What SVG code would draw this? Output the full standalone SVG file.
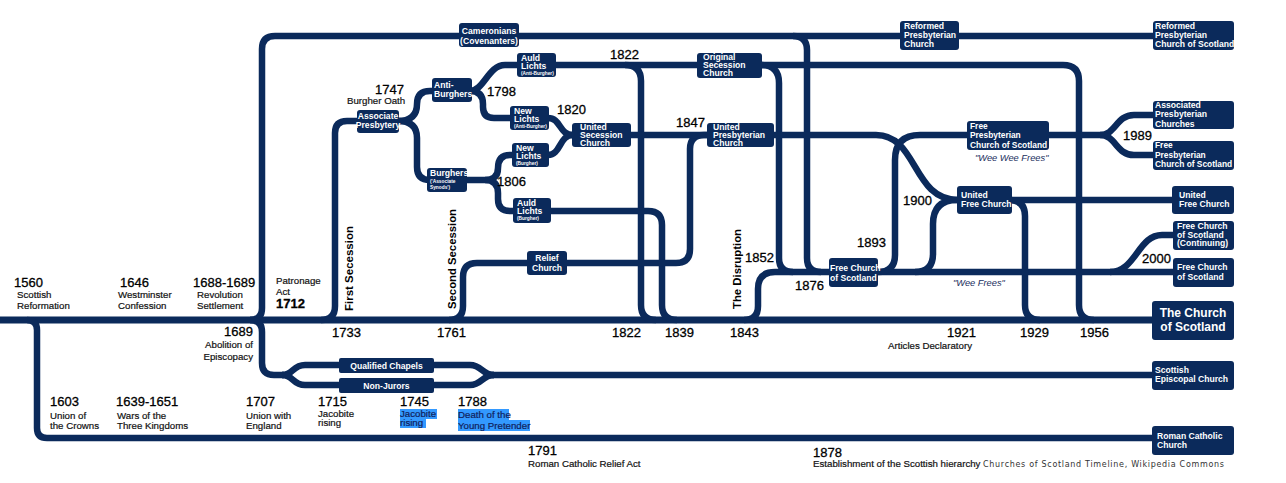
<svg xmlns="http://www.w3.org/2000/svg" width="1286" height="483" viewBox="0 0 1286 483">
<style>
.c path{fill:none;stroke:#0b2a5b;stroke-width:6.5}
.b{fill:#0b2a5b}
.t{font-family:"Liberation Sans",Arial,sans-serif;font-weight:bold;font-size:8.6px;fill:#fff}
.s{font-size:4.8px}
.y{font-family:"Liberation Sans",Arial,sans-serif;font-size:13px;fill:#000;stroke:#000;stroke-width:0.3}
.l{font-family:"Liberation Sans",Arial,sans-serif;font-size:9.7px;fill:#111;stroke:#111;stroke-width:0.2}
.v{font-family:"Liberation Sans",Arial,sans-serif;font-weight:bold;font-size:11.5px;fill:#000}
.i{font-family:"Liberation Sans",Arial,sans-serif;font-style:italic;font-size:9.3px;fill:#1b2f5e}
.h{fill:#3399ff}
</style>
<rect width="1286" height="483" fill="#fff"/>
<g id="connectors" class="c">
<path d="M0,320 H1155" style="stroke-width:7"/>
<path d="M27,320 Q37,320 37,330 V428 Q37,438 47,438 H1155"/>
<path d="M250,320 Q262,320 262,308 V49 Q262,36 275,36 H1155"/>
<path d="M793,36 Q807,36 807,50 V258 Q807,272 821,272"/>
<path d="M250,320 Q262,320 262,332 V363 Q262,375 274,375 H284"/>
<path d="M282,375 C294,375 292,365 305,365 H470 C482,365 482,375 494,375"/>
<path d="M282,375 C294,375 292,385 305,385 H470 C482,385 482,375 494,375"/>
<path d="M490,375 H1155"/>
<path d="M321,320 Q335,320 335,306 V133 Q335,121 347,121 H358"/>
<path d="M398,121 Q417,121 417,104 Q417,91 430,91 H433"/>
<path d="M398,121 Q417,121 417,138 V167 Q417,180 430,180"/>
<path d="M470,91 C484,91 488,65 505,65 H518"/>
<path d="M470,91 Q483,91 483,104 V107 Q483,118 494,118 H511"/>
<path d="M466,180 H485 Q498,180 498,168 Q498,155 510,155 H513"/>
<path d="M485,180 Q498,180 498,193 V199 Q498,211 510,211 H514"/>
<path d="M548,118 C561,118 559,135 573,135"/>
<path d="M548,155 C561,155 559,135 573,135"/>
<path d="M555,65 H698"/>
<path d="M625,65 Q641,65 641,81 V305 Q641,320 656,320"/>
<path d="M761,65 H1063 Q1079,65 1079,81 V305 Q1079,320 1094,320"/>
<path d="M761,65 Q779,65 779,83 V258 Q779,272 793,272"/>
<path d="M550,211 H648 Q662,211 662,225 V305 Q662,320 677,320"/>
<path d="M449,320 Q463,320 463,306 V277 Q463,263 477,263 H676 Q690,263 690,249 V149 Q690,135 704,135 H708"/>
<path d="M630,135 H708"/>
<path d="M773,135 H876 C918,135 912,200 958,200"/>
<path d="M744,320 Q758,320 758,306 V289 Q758,272 775,272 H1174"/>
<path d="M878,272 Q895,272 895,255 V160 Q895,135 920,135 H968"/>
<path d="M915,272 Q933,272 933,254 V224 Q933,200 957,200"/>
<path d="M1011,200 H1173"/>
<path d="M1009,200 Q1025,200 1025,216 V305 Q1025,320 1040,320"/>
<path d="M1048,135 H1100 C1116,135 1116,115 1134,115 H1154"/>
<path d="M1100,135 C1116,135 1116,155 1134,155 H1154"/>
<path d="M1110,272 C1136,272 1138,235 1162,235 H1174"/>
</g>

<g id="n-cameronians"><rect class="b" x="459" y="23" width="60" height="24" rx="3"/><text class="t" text-anchor="middle"><tspan x="489" y="33.5">Cameronians</tspan><tspan x="489" y="43.5">(Covenanters)</tspan></text></g>
<g id="n-rpc"><rect class="b" x="900" y="21" width="59" height="29" rx="3"/><text class="t"><tspan x="904" y="29">Reformed</tspan><tspan x="904" y="38">Presbyterian</tspan><tspan x="904" y="47">Church</tspan></text></g>
<g id="n-rpcs"><rect class="b" x="1153" y="21" width="81" height="29" rx="3"/><text class="t"><tspan x="1155" y="28.5">Reformed</tspan><tspan x="1155" y="37.5">Presbyterian</tspan><tspan x="1155" y="46.5">Church of Scotland</tspan></text></g>
<g id="n-assoc"><rect class="b" x="357" y="110" width="42" height="23" rx="3"/><text class="t" text-anchor="middle"><tspan x="378" y="119">Associate</tspan><tspan x="378" y="128">Presbytery</tspan></text></g>
<g id="n-antiburghers"><rect class="b" x="432" y="78" width="40" height="24" rx="3"/><text class="t"><tspan x="434" y="88">Anti-</tspan><tspan x="434" y="97">Burghers</tspan></text></g>
<g id="n-burghers"><rect class="b" x="427" y="168" width="40" height="24" rx="3"/><text class="t"><tspan x="430" y="176">Burghers</tspan><tspan class="s" x="430" y="182.5">('Associate</tspan><tspan class="s" x="430" y="188.5">Synods')</tspan></text></g>
<g id="n-auld-ab"><rect class="b" x="517" y="53" width="39" height="24" rx="3"/><text class="t"><tspan x="521" y="60.5">Auld</tspan><tspan x="521" y="68.5">Lichts</tspan><tspan class="s" x="521" y="74.5">(Anti-Burgher)</tspan></text></g>
<g id="n-new-ab"><rect class="b" x="510" y="106" width="39" height="24" rx="3"/><text class="t"><tspan x="514" y="113.5">New</tspan><tspan x="514" y="121.5">Lichts</tspan><tspan class="s" x="514" y="127.5">(Anti-Burgher)</tspan></text></g>
<g id="n-new-b"><rect class="b" x="512" y="143" width="37" height="24" rx="3"/><text class="t"><tspan x="516" y="150.5">New</tspan><tspan x="516" y="158.5">Lichts</tspan><tspan class="s" x="516" y="164.5">(Burgher)</tspan></text></g>
<g id="n-auld-b"><rect class="b" x="513" y="198" width="38" height="25" rx="3"/><text class="t"><tspan x="517" y="205.5">Auld</tspan><tspan x="517" y="213.5">Lichts</tspan><tspan class="s" x="517" y="220">(Burgher)</tspan></text></g>
<g id="n-usc"><rect class="b" x="572" y="123" width="59" height="24" rx="3"/><text class="t"><tspan x="580" y="130">United</tspan><tspan x="580" y="138">Secession</tspan><tspan x="580" y="146">Church</tspan></text></g>
<g id="n-relief"><rect class="b" x="527" y="251" width="40" height="24" rx="3"/><text class="t" text-anchor="middle"><tspan x="547" y="261">Relief</tspan><tspan x="547" y="271">Church</tspan></text></g>
<g id="n-osc"><rect class="b" x="697" y="53" width="65" height="25" rx="3"/><text class="t"><tspan x="703" y="60">Original</tspan><tspan x="703" y="68">Secession</tspan><tspan x="703" y="76">Church</tspan></text></g>
<g id="n-upc"><rect class="b" x="707" y="123" width="67" height="24" rx="3"/><text class="t"><tspan x="713" y="130">United</tspan><tspan x="713" y="138">Presbyterian</tspan><tspan x="713" y="146">Church</tspan></text></g>
<g id="n-fc"><rect class="b" x="829" y="258" width="49" height="29" rx="3"/><text class="t"><tspan x="830" y="270.5">Free Church</tspan><tspan x="830" y="280.5">of Scotland</tspan></text></g>
<g id="n-fp"><rect class="b" x="967" y="121" width="82" height="29" rx="3"/><text class="t" style="font-size:8.4px"><tspan x="970" y="128.5">Free</tspan><tspan x="970" y="138">Presbyterian</tspan><tspan x="970" y="147.5">Church of Scotland</tspan></text></g>
<g id="n-ufc"><rect class="b" x="957" y="186" width="55" height="28" rx="3"/><text class="t"><tspan x="961" y="197.5">United</tspan><tspan x="961" y="206.5">Free Church</tspan></text></g>
<g id="n-apc"><rect class="b" x="1153" y="101" width="81" height="28" rx="3"/><text class="t"><tspan x="1155" y="108">Associated</tspan><tspan x="1155" y="117">Presbyterian</tspan><tspan x="1155" y="126.5">Churches</tspan></text></g>
<g id="n-fpcs"><rect class="b" x="1153" y="141" width="81" height="29" rx="3"/><text class="t" style="font-size:8.4px"><tspan x="1155" y="148">Free</tspan><tspan x="1155" y="157.5">Presbyterian</tspan><tspan x="1155" y="167">Church of Scotland</tspan></text></g>
<g id="n-ufc2"><rect class="b" x="1172" y="186" width="62" height="28" rx="3"/><text class="t"><tspan x="1179" y="197.5">United</tspan><tspan x="1179" y="206.5">Free Church</tspan></text></g>
<g id="n-fcc"><rect class="b" x="1173" y="221" width="61" height="29" rx="3"/><text class="t"><tspan x="1177" y="229">Free Church</tspan><tspan x="1177" y="237.5">of Scotland</tspan><tspan x="1177" y="246">(Continuing)</tspan></text></g>
<g id="n-fcs2"><rect class="b" x="1173" y="258" width="61" height="29" rx="3"/><text class="t"><tspan x="1177" y="270">Free Church</tspan><tspan x="1177" y="280">of Scotland</tspan></text></g>
<g id="n-cos"><rect class="b" x="1152" y="301" width="82" height="39" rx="3"/><text class="t" style="font-size:12px" text-anchor="middle"><tspan x="1193" y="317">The Church</tspan><tspan x="1193" y="331">of Scotland</tspan></text></g>
<g id="n-qc"><rect class="b" x="339" y="358" width="95" height="15" rx="2"/><text class="t" text-anchor="middle" x="386.5" y="368.5">Qualified Chapels</text></g>
<g id="n-nj"><rect class="b" x="339" y="378" width="95" height="15" rx="2"/><text class="t" text-anchor="middle" x="386.5" y="389">Non-Jurors</text></g>
<g id="n-sec"><rect class="b" x="1152" y="361" width="82" height="29" rx="3"/><text class="t"><tspan x="1155" y="373">Scottish</tspan><tspan x="1155" y="382">Episcopal Church</tspan></text></g>
<g id="n-rcc"><rect class="b" x="1152" y="426" width="82" height="29" rx="3"/><text class="t"><tspan x="1157" y="439">Roman Catholic</tspan><tspan x="1157" y="448">Church</tspan></text></g>

<g id="labels">
<text class="y" x="14" y="287">1560</text>
<text class="l"><tspan x="17" y="298">Scottish</tspan><tspan x="17" y="309">Reformation</tspan></text>
<text class="y" x="120" y="287">1646</text>
<text class="l"><tspan x="118" y="298">Westminster</tspan><tspan x="118" y="309">Confession</tspan></text>
<text class="y" x="193" y="287">1688-1689</text>
<text class="l"><tspan x="197" y="298">Revolution</tspan><tspan x="197" y="309">Settlement</tspan></text>
<text class="l"><tspan x="276" y="284">Patronage</tspan><tspan x="276" y="295">Act</tspan></text>
<text class="y" x="276" y="308" font-weight="bold">1712</text>
<text class="y" x="253" y="336" text-anchor="end">1689</text>
<text class="l" text-anchor="end"><tspan x="253" y="348">Abolition of</tspan><tspan x="253" y="360">Episcopacy</tspan></text>

<text class="y" x="375" y="94">1747</text>
<text class="l" x="347" y="104">Burgher Oath</text>
<text class="y" x="487" y="96">1798</text>
<text class="y" x="610" y="59">1822</text>
<text class="y" x="557" y="114">1820</text>
<text class="y" x="497" y="186">1806</text>
<text class="y" x="676" y="127">1847</text>
<text class="y" x="745" y="262">1852</text>
<text class="y" x="795" y="290">1876</text>
<text class="y" x="857" y="247">1893</text>
<text class="y" x="903" y="205">1900</text>
<text class="y" x="1123" y="140">1989</text>
<text class="y" x="1142" y="263">2000</text>
<text class="i" x="975" y="161">"Wee Wee Frees"</text>
<text class="i" x="953" y="286">"Wee Frees"</text>

<text class="v" transform="translate(353,311) rotate(-90)" textLength="85" lengthAdjust="spacingAndGlyphs">First Secession</text>
<text class="v" transform="translate(456,309) rotate(-90)" textLength="100" lengthAdjust="spacingAndGlyphs">Second Secession</text>
<text class="v" transform="translate(741,309) rotate(-90)" textLength="80" lengthAdjust="spacingAndGlyphs">The Disruption</text>

<text class="y" x="332" y="337">1733</text>
<text class="y" x="437" y="337">1761</text>
<text class="y" x="612" y="337">1822</text>
<text class="y" x="665" y="337">1839</text>
<text class="y" x="730" y="337">1843</text>
<text class="y" x="947" y="337">1921</text>
<text class="l" x="888" y="349">Articles Declaratory</text>
<text class="y" x="1020" y="337">1929</text>
<text class="y" x="1080" y="337">1956</text>

<text class="y" x="50" y="406">1603</text>
<text class="l"><tspan x="50" y="419">Union of</tspan><tspan x="50" y="429">the Crowns</tspan></text>
<text class="y" x="116" y="406">1639-1651</text>
<text class="l"><tspan x="117" y="419">Wars of the</tspan><tspan x="117" y="429">Three Kingdoms</tspan></text>
<text class="y" x="246" y="406">1707</text>
<text class="l"><tspan x="246" y="419">Union with</tspan><tspan x="246" y="429">England</tspan></text>
<text class="y" x="318" y="406">1715</text>
<text class="l"><tspan x="318" y="417">Jacobite</tspan><tspan x="318" y="426">rising</tspan></text>
<text class="y" x="400" y="406">1745</text>
<rect class="h" x="400" y="409" width="37" height="10"/>
<rect class="h" x="400" y="419" width="26" height="9"/>
<text class="l" style="fill:#10205a;stroke:#10205a"><tspan x="400" y="417">Jacobite</tspan><tspan x="400" y="426">rising</tspan></text>
<text class="y" x="458" y="406">1788</text>
<rect class="h" x="458" y="409" width="51" height="11"/>
<rect class="h" x="458" y="420" width="72" height="11"/>
<text class="l" style="fill:#10205a;stroke:#10205a"><tspan x="458" y="418">Death of the</tspan><tspan x="458" y="429">Young Pretender</tspan></text>
<text class="y" x="528" y="455">1791</text>
<text class="l" x="528" y="467">Roman Catholic Relief Act</text>
<text class="y" x="813" y="457">1878</text>
<text class="l" x="813" y="467">Establishment of the Scottish hierarchy</text>
<text x="983" y="467" style="font-family:'DejaVu Sans',Verdana,sans-serif;font-size:8px;fill:#333" textLength="241" lengthAdjust="spacing">Churches of Scotland Timeline, Wikipedia Commons</text>
</g>
</svg>
